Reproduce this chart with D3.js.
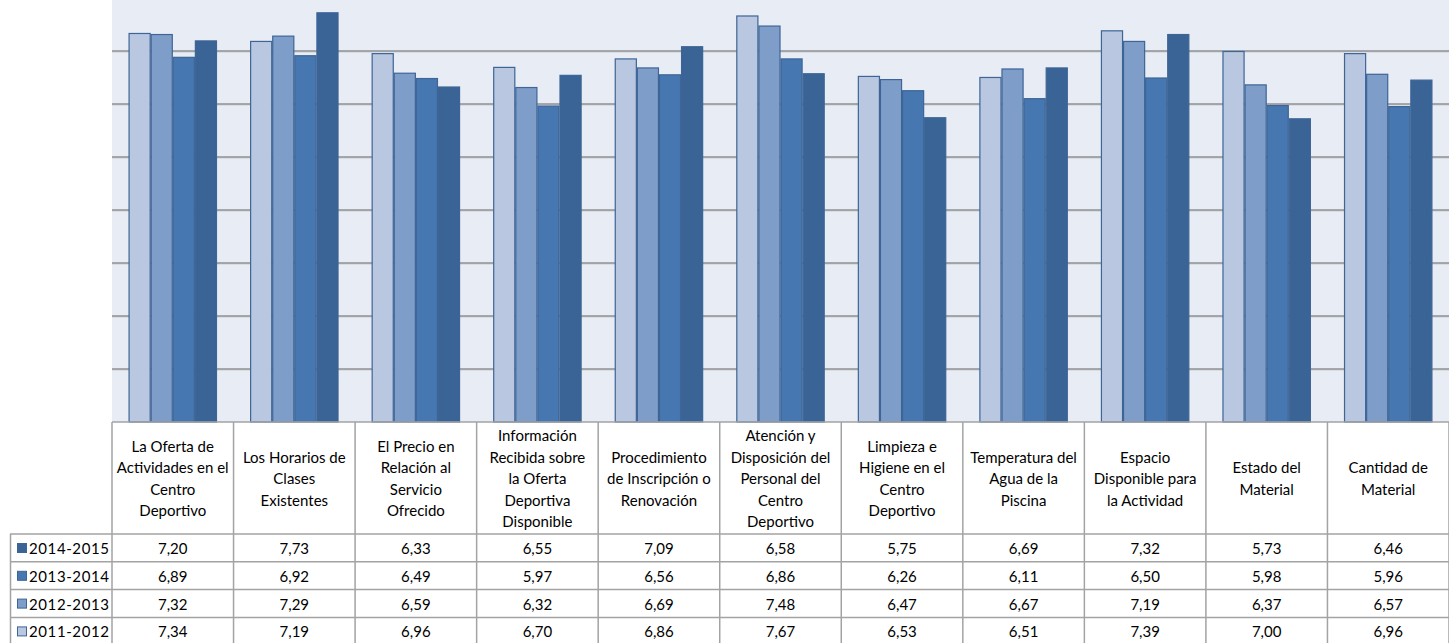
<!DOCTYPE html>
<html><head><meta charset="utf-8">
<script src="https://cdn.jsdelivr.net/npm/d3@7"></script>
<style>
html,body{margin:0;padding:0;background:#fff;overflow:hidden}
svg{display:block}
text{font-family:Lato,"Liberation Sans",sans-serif;fill:#000}
</style></head>
<body>
<svg id="c" width="1449" height="643"></svg>
<script>
const categories = [
  "La Oferta de|Actividades en el|Centro|Deportivo",
  "Los Horarios de|Clases|Existentes",
  "El Precio en|Relación al|Servicio|Ofrecido",
  "Información|Recibida sobre|la Oferta|Deportiva|Disponible",
  "Procedimiento|de Inscripción o|Renovación",
  "Atención y|Disposición del|Personal del|Centro|Deportivo",
  "Limpieza e|Higiene en el|Centro|Deportivo",
  "Temperatura del|Agua de la|Piscina",
  "Espacio|Disponible para|la Actividad",
  "Estado  del|Material",
  "Cantidad de|Material"
];
const seriesNames = ["2011-2012","2012-2013","2013-2014","2014-2015"];
const v2011 = [7.34,7.19,6.96,6.70,6.86,7.67,6.53,6.51,7.39,7.00,6.96];
const v2012 = [7.32,7.29,6.59,6.32,6.69,7.48,6.47,6.67,7.19,6.37,6.57];
const v2013 = [6.89,6.92,6.49,5.97,6.56,6.86,6.26,6.11,6.50,5.98,5.96];
const v2014 = [7.20,7.73,6.33,6.55,7.09,6.58,5.75,6.69,7.32,5.73,6.46];
const seriesValues = [v2011,v2012,v2013,v2014];
const colors = ["#B9C7E1","#7F9DC9","#4677B1","#3A6396"];
const tableOrder = [3,2,1,0];

const svg = d3.select("#c");
const L = 112, R = 1449, T = 0, B = 422;
const catIdx = d3.range(categories.length);

const x = d3.scaleBand().domain(catIdx).range([L,R]).paddingInner(1.5/5.5).paddingOuter(0.75/5.5);
const xs = d3.scaleBand().domain(d3.range(seriesNames.length)).range([0,x.bandwidth()]);
const col = d3.scaleBand().domain(catIdx).range([L,R]);
const y = d3.scaleLinear().domain([0,8]).range([B,-2]);

// plot background
svg.append("rect").attr("x",L).attr("y",T).attr("width",R-L).attr("height",B-T).attr("fill","#E8ECF5");

// gridlines
const grid = d3.range(1,8);
svg.append("g").selectAll("line").data(grid).join("line")
  .attr("x1",L).attr("x2",R).attr("y1",d=>y(d)+1).attr("y2",d=>y(d)+1)
  .attr("stroke","#C8CBD2").attr("stroke-width",1);
svg.append("g").selectAll("line").data(grid).join("line")
  .attr("x1",L).attr("x2",R).attr("y1",d=>y(d)).attr("y2",d=>y(d))
  .attr("stroke","#8F9092").attr("stroke-width",1.6);

// bars
seriesValues.forEach((vals,s)=>{
  svg.append("g").selectAll("rect").data(vals).join("rect")
    .attr("x",(d,i)=>x(i)+xs(s)+0.5)
    .attr("y",d=>y(d)+0.5)
    .attr("width",xs.bandwidth()-1)
    .attr("height",d=>B-y(d)-0.5)
    .attr("fill",colors[s])
    .attr("stroke","#3D6596").attr("stroke-width",1.2);
});

// table
const hdrTop = B, hdrBot = 534, rowH = 27.8;
const lineC = "#A3A3A3";
const tg = svg.append("g");
tg.append("line").attr("x1",L).attr("x2",R).attr("y1",B).attr("y2",B).attr("stroke","#A3A3A3").attr("stroke-width",1.5);
tg.selectAll("line.v").data(d3.range(categories.length+1)).join("line").attr("class","v")
  .attr("x1",i=>i<categories.length?col(i):R).attr("x2",i=>i<categories.length?col(i):R)
  .attr("y1",B).attr("y2",643).attr("stroke",lineC).attr("stroke-width",1.5);
tg.append("line").attr("x1",10.5).attr("x2",10.5).attr("y1",hdrBot).attr("y2",643).attr("stroke",lineC).attr("stroke-width",1.5);
tg.selectAll("line.h").data(d3.range(4)).join("line").attr("class","h")
  .attr("x1",10).attr("x2",R).attr("y1",i=>hdrBot+i*rowH).attr("y2",i=>hdrBot+i*rowH)
  .attr("stroke",lineC).attr("stroke-width",1.5);

// header text
const lh = 21.5;
categories.forEach((c,i)=>{
  const lines = c.split("|");
  const cx = col(i)+col.bandwidth()/2;
  const cy = (hdrTop+hdrBot)/2 + 1;
  const t = tg.append("text").attr("text-anchor","middle").attr("font-size","15px");
  lines.forEach((ln,k)=>{
    t.append("tspan").attr("x",cx).attr("y",cy+(k-(lines.length-1)/2)*lh+5).text(ln);
  });
});

// rows
const fmt = v=>v.toFixed(2).replace(".",",");
tableOrder.forEach((s,r)=>{
  const ry = hdrBot + r*rowH;
  tg.append("rect").attr("x",17.5).attr("y",ry+9.5).attr("width",9).attr("height",9)
    .attr("fill",colors[s]).attr("stroke","#3D6596").attr("stroke-width",1);
  tg.append("text").attr("x",29).attr("y",ry+20).attr("font-size","15px").attr("letter-spacing","0.6px").text(seriesNames[s]);
  seriesValues[s].forEach((v,i)=>{
    tg.append("text").attr("x",col(i)+col.bandwidth()/2).attr("y",ry+20).attr("text-anchor","middle")
      .attr("font-size","15px").text(fmt(v));
  });
});
</script>
</body></html>
